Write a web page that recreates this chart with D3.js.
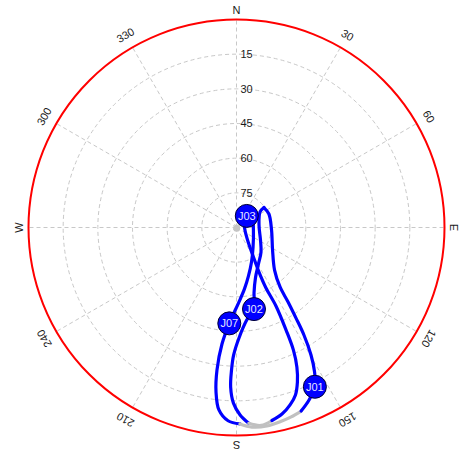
<!DOCTYPE html>
<html>
<head>
<meta charset="utf-8">
<script src="https://cdn.jsdelivr.net/npm/d3@7/dist/d3.min.js"></script>
<style>
  body { margin: 0; background: #fff; }
  svg { display: block; }
</style>
</head>
<body>
<svg id="sky" width="459" height="452"></svg>
<script>
// Sky plot: azimuth clockwise from north, elevation 90 at centre, 0 at rim.
const azimuthTicks = [0, 30, 60, 90, 120, 150, 180, 210, 240, 270, 300, 330];
const azimuthLabels = ["N", "30", "60", "E", "120", "150", "S", "210", "240", "W", "300", "330"];
const elevationTicks = [15, 30, 45, 60, 75];
const elevationLabels = ["15", "30", "45", "60", "75"];
const elevationMask = 5; // below this the track is drawn grey

// Track through the western side of the southern loop (az, el)
const trackA = [
  [28.3, 80.4], [48.9, 81.1], [98.4, 82.6], [139.8, 78.9], [156.5, 73.7],
  [166.1, 68.4], [172.6, 63.2], [178.5, 57.3], [184.3, 48.4], [187.1, 39.2],
  [187.8, 27.8], [187.1, 18.3], [185.5, 10.7], [182.5, 6.3], [179.0, 5.0],
  [175.6, 3.4], [171.3, 3.1], [166.8, 4.0], [163.9, 4.7], [160.6, 5.8],
  [157.2, 9.0], [153.8, 13.2], [151.6, 19.0], [149.7, 26.1], [147.9, 35.1],
  [146.7, 43.1], [145.3, 50.8], [143.8, 58.1], [138.2, 65.3], [122.0, 71.6],
  [94.1, 74.8], [67.4, 74.8], [54.0, 75.3]
];

// Track through the inner southern loop (az, el)
const trackB = [
  [54.0, 75.3], [56.6, 77.8], [83.7, 80.2], [117.5, 78.3], [135.0, 75.0],
  [148.9, 71.6], [159.4, 66.7], [165.0, 60.7], [167.9, 53.9], [173.7, 49.7],
  [178.7, 42.2], [181.3, 34.8], [182.0, 28.3], [182.1, 20.9], [181.0, 14.0],
  [178.9, 8.9], [176.4, 5.1], [172.9, 3.7], [169.6, 5.1], [166.3, 6.9],
  [163.2, 9.8], [160.6, 13.2], [158.5, 18.1], [156.6, 24.2], [155.1, 31.5],
  [154.2, 40.7], [153.3, 52.0], [154.0, 60.9], [153.2, 68.4], [150.1, 75.3],
  [142.3, 81.5], [106.4, 86.2], [38.3, 84.8], [28.3, 80.4]
];

// Current satellite positions
const satNames = ["J01", "J02", "J03", "J07"];
const satAzimuth = [153.8, 167.9, 41.6, 184.3];
const satElevation = [13.2, 53.9, 83.3, 48.4];

const cx = 236.5, cy = 227.5, R = 208;
const svg = d3.select("#sky");
const g = svg.append("g").attr("transform", `translate(${cx},${cy})`);

const rScale = d3.scaleLinear().domain([90, 0]).range([0, R]);
const angle = d3.scaleLinear().domain([0, 360]).range([0, 2 * Math.PI]);
const px = (az, el) => rScale(el) * Math.sin(angle(az));
const py = (az, el) => -rScale(el) * Math.cos(angle(az));

// Grid: elevation rings
g.selectAll("circle.ring").data(elevationTicks).join("circle")
  .attr("class", "ring")
  .attr("r", d => rScale(d))
  .attr("fill", "none")
  .attr("stroke", "#c8c8c8")
  .attr("stroke-width", 1)
  .attr("stroke-dasharray", "4,3");

// Grid: azimuth spokes
g.selectAll("line.spoke").data(azimuthTicks).join("line")
  .attr("class", "spoke")
  .attr("x1", 0).attr("y1", 0)
  .attr("x2", d => px(d, 0)).attr("y2", d => py(d, 0))
  .attr("stroke", "#c8c8c8")
  .attr("stroke-width", 1)
  .attr("stroke-dasharray", "4,3");

// Horizon
g.append("circle")
  .attr("r", rScale(0))
  .attr("fill", "none")
  .attr("stroke", "#ff0000")
  .attr("stroke-width", 2);

// Zenith marker
g.append("circle").attr("r", 3.5).attr("cx", 0.2).attr("cy", 0.8).attr("fill", "#c4c4c4");

// Elevation labels
g.selectAll("text.el").data(elevationTicks).join("text")
  .attr("class", "el")
  .attr("x", 4)
  .attr("y", d => -rScale(d))
  .attr("dy", "0.35em")
  .attr("font-family", "'Liberation Sans', Arial, sans-serif")
  .attr("font-size", 11)
  .attr("fill", "#1a1a1a")
  .text((d, i) => elevationLabels[i]);

// Azimuth labels, rotated with the bearing
g.selectAll("text.az").data(azimuthTicks).join("text")
  .attr("class", "az")
  .attr("transform", (d, i) => {
    const r = rScale(0) + (azimuthLabels[i].length === 1 ? 9 : 14);
    const a = angle(d);
    return `translate(${r * Math.sin(a)},${-r * Math.cos(a)}) rotate(${d})`;
  })
  .attr("text-anchor", "middle")
  .attr("dy", "0.35em")
  .attr("font-family", "'Liberation Sans', Arial, sans-serif")
  .attr("font-size", 11)
  .attr("fill", "#1a1a1a")
  .text((d, i) => azimuthLabels[i]);

// Tracks: split into runs above / below the elevation mask
const radial = d3.lineRadial()
  .angle(d => angle(d[0]))
  .radius(d => rScale(d[1]))
  .curve(d3.curveCatmullRom.alpha(0.5));

function runs(track) {
  const out = [];
  let cur = null;
  for (let i = 0; i < track.length - 1; i++) {
    const low = track[i][1] < elevationMask || track[i + 1][1] < elevationMask;
    if (!cur || cur.low !== low) {
      cur = { low, pts: [track[i]] };
      out.push(cur);
    }
    cur.pts.push(track[i + 1]);
  }
  return out;
}

const segments = [...runs(trackA), ...runs(trackB)];
g.selectAll("path.track").data(segments).join("path")
  .attr("class", "track")
  .attr("d", d => radial(d.pts))
  .attr("fill", "none")
  .attr("stroke", d => d.low ? "#c0c0c0" : "#0000ff")
  .attr("stroke-width", 3.2)
  .attr("stroke-linecap", "round")
  .attr("stroke-linejoin", "round");

// Satellite markers
const sats = g.selectAll("g.sat").data(satNames).join("g")
  .attr("class", "sat")
  .attr("transform", (d, i) => `translate(${px(satAzimuth[i], satElevation[i])},${py(satAzimuth[i], satElevation[i])})`);

sats.append("circle")
  .attr("r", 11.5)
  .attr("fill", "#0000ff")
  .attr("stroke", "#000033")
  .attr("stroke-width", 1);

sats.append("text")
  .attr("text-anchor", "middle")
  .attr("dy", "0.36em")
  .attr("font-family", "'Liberation Sans', Arial, sans-serif")
  .attr("font-size", 11)
  .attr("fill", "#e6e6ff")
  .text(d => d);
</script>
</body>
</html>
